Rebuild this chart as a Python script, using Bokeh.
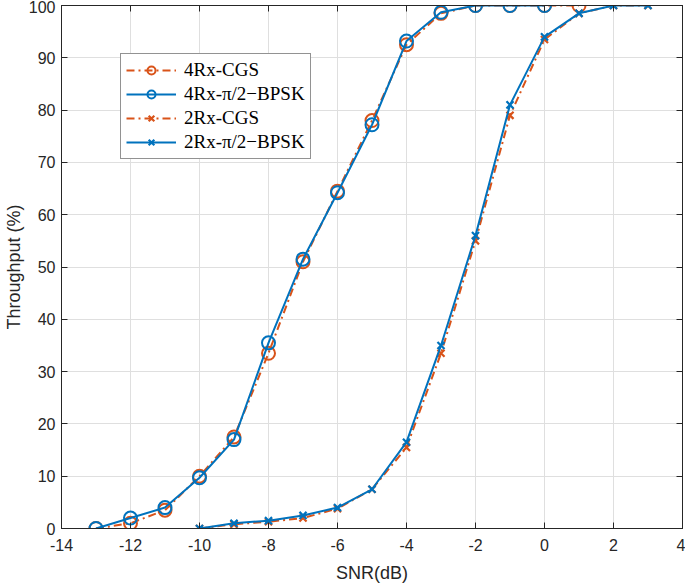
from bokeh.plotting import figure
from bokeh.models import LinearAxis, Legend, LegendItem, Range1d, FixedTicker, CustomJSTickFormatter
from bokeh.embed import file_html
from bokeh.resources import INLINE

snr_4rx_cgs = [-13, -12, -11, -10, -9, -8, -7, -6, -5, -4, -3, -2, -1, 0, 1]
thr_4rx_cgs = [0, 1, 3.5, 10, 17.5, 33.5, 51, 64.5, 78, 92.5, 98.5, 100, 100, 100, 100]

snr_4rx_bpsk = [-13, -12, -11, -10, -9, -8, -7, -6, -5, -4, -3, -2, -1, 0]
thr_4rx_bpsk = [0, 2, 4, 9.7, 17, 35.5, 51.5, 64.2, 77.2, 93.2, 98.7, 100, 100, 100]

snr_2rx_cgs = [-10, -9, -8, -7, -6, -5, -4, -3, -2, -1, 0, 1, 2, 3]
thr_2rx_cgs = [0, 0.8, 1.3, 2, 3.8, 7.5, 15.5, 33.5, 55, 79, 93.5, 98.5, 100, 100]

snr_2rx_bpsk = [-10, -9, -8, -7, -6, -5, -4, -3, -2, -1, 0, 1, 2, 3]
thr_2rx_bpsk = [0, 1, 1.5, 2.5, 4, 7.5, 16.5, 35, 56, 81, 94, 98.5, 100, 100]

x_ticks = [-14, -12, -10, -8, -6, -4, -2, 0, 2, 4]
y_ticks = [0, 10, 20, 30, 40, 50, 60, 70, 80, 90, 100]

BLUE = "#0072BD"
ORANGE = "#D95319"
TICK_FONT = "Liberation Sans"
DARK = "#262626"

W, H = 685, 585
p = figure(width=W, height=H, output_backend="svg", toolbar_location=None,
           x_range=Range1d(-14, 4), y_range=Range1d(0, 100),
           min_border_left=56, min_border_right=3, min_border_top=5, min_border_bottom=57)
p.outline_line_color = DARK
p.outline_line_width = 1

for ax in p.xaxis + p.yaxis:
    ax.major_tick_in = 6
    ax.major_tick_out = 0
    ax.minor_tick_line_color = None
    ax.axis_line_color = DARK
    ax.major_tick_line_color = DARK
    ax.major_label_text_font = TICK_FONT
    ax.major_label_text_font_size = "16px"
    ax.major_label_text_color = DARK
    ax.axis_label_text_font = TICK_FONT
    ax.axis_label_text_font_size = "18px"
    ax.axis_label_text_font_style = "normal"
    ax.axis_label_text_color = DARK
p.xaxis.ticker = FixedTicker(ticks=x_ticks)
p.yaxis.ticker = FixedTicker(ticks=y_ticks)
p.xaxis.major_label_overrides = {t: str(t) for t in x_ticks}
p.xaxis.major_label_standoff = 10
p.yaxis.major_label_standoff = 6
p.xaxis.axis_label = "SNR(dB)"
p.yaxis.axis_label = "Throughput (%)"
p.xaxis.axis_label_standoff = 9
p.yaxis.axis_label_standoff = 2

blank = CustomJSTickFormatter(code="return '';")
top = LinearAxis(ticker=FixedTicker(ticks=x_ticks), formatter=blank,
                 major_tick_in=6, major_tick_out=0, minor_tick_line_color=None,
                 major_label_standoff=0, axis_line_color=DARK, major_tick_line_color=DARK)
right = LinearAxis(ticker=FixedTicker(ticks=y_ticks), formatter=blank,
                   major_tick_in=6, major_tick_out=0, minor_tick_line_color=None,
                   major_label_standoff=0, axis_line_color=DARK, major_tick_line_color=DARK)
p.add_layout(top, "above")
p.add_layout(right, "right")

p.xgrid.grid_line_color = "#dfdfdf"
p.ygrid.grid_line_color = "#dfdfdf"
p.xgrid.grid_line_width = 1
p.ygrid.grid_line_width = 1

lw = 2
l1 = p.line(snr_4rx_cgs, thr_4rx_cgs, color=ORANGE, line_width=lw, line_dash="8 4 2 4")
m1 = p.scatter(snr_4rx_cgs, thr_4rx_cgs, marker="circle", size=13, fill_color=None,
               line_color=ORANGE, line_width=2)
l2 = p.line(snr_4rx_bpsk, thr_4rx_bpsk, color=BLUE, line_width=lw)
m2 = p.scatter(snr_4rx_bpsk, thr_4rx_bpsk, marker="circle", size=13, fill_color=None,
               line_color=BLUE, line_width=2)
l3 = p.line(snr_2rx_cgs, thr_2rx_cgs, color=ORANGE, line_width=lw, line_dash="8 4 2 4")
m3 = p.scatter(snr_2rx_cgs, thr_2rx_cgs, marker="x", size=10, line_color=ORANGE, line_width=2.2)
l4 = p.line(snr_2rx_bpsk, thr_2rx_bpsk, color=BLUE, line_width=lw)
m4 = p.scatter(snr_2rx_bpsk, thr_2rx_bpsk, marker="x", size=10, line_color=BLUE, line_width=2.2)

legend = Legend(items=[
    LegendItem(label="4Rx-CGS", renderers=[l1, m1]),
    LegendItem(label="4Rx-\u03c0/2\u2212BPSK", renderers=[l2, m2]),
    LegendItem(label="2Rx-CGS", renderers=[l3, m3]),
    LegendItem(label="2Rx-\u03c0/2\u2212BPSK", renderers=[l4, m4]),
], location=(59, 369))
legend.label_text_font = "Liberation Serif"
legend.label_text_font_size = "19px"
legend.label_text_color = "#000000"
legend.border_line_color = DARK
legend.border_line_width = 1
legend.background_fill_alpha = 1
legend.glyph_width = 50
legend.glyph_height = 20
legend.label_height = 20
legend.spacing = 2
legend.padding = 5
legend.margin = 0
legend.label_standoff = 8
p.add_layout(legend, "center")

open("out.html", "w").write(file_html(p, INLINE))
